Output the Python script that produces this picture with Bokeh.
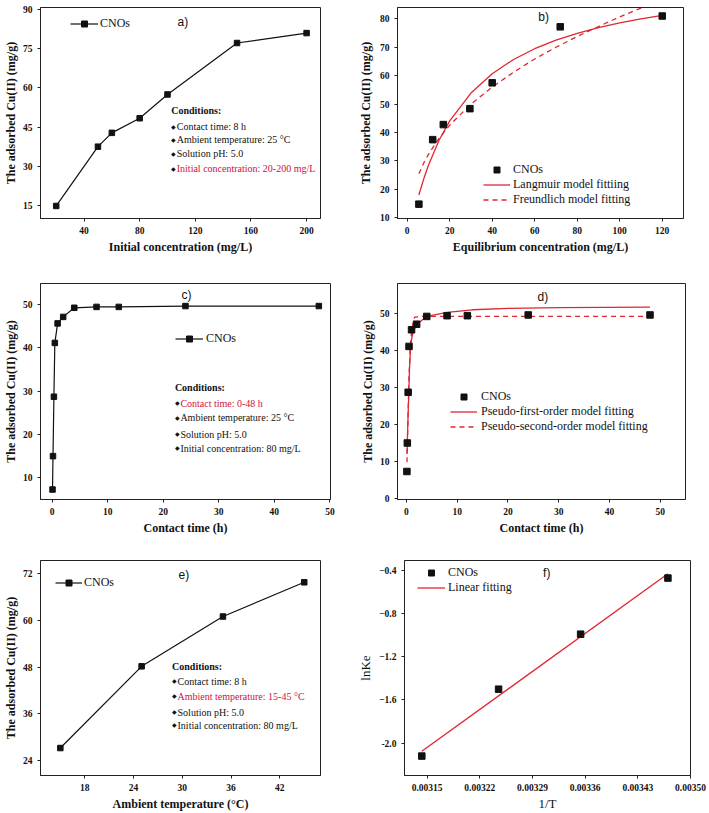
from bokeh.plotting import figure
from bokeh.layouts import column, row
from bokeh.models import (Range1d, FixedTicker, Label, Legend, LegendItem, PrintfTickFormatter,
                          AllLabels)
from bokeh.embed import file_html
from bokeh.resources import INLINE

SERIF = "Liberation Serif"
SANS = "Liberation Sans"
RED_LINE = "#e0262f"
RED_TEXT = "#d0103a"
INK = "#111111"

# ---------------- data ----------------
# a) effect of initial concentration
a_conc = [20, 50, 60, 80, 100, 150, 200]
a_q = [14.8, 37.5, 42.8, 48.4, 57.5, 77.2, 81.0]
a_xticks = [40, 80, 120, 160, 200]
a_yticks = [15, 30, 45, 60, 75, 90]

# b) isotherms
b_ce = [5.5, 12, 17, 29.5, 40, 72, 120]
b_q = [14.8, 37.5, 42.8, 48.4, 57.5, 77.2, 81.0]
lang_x = [5.5, 8, 10, 15, 20, 30, 40, 50, 60, 70, 80, 90, 100, 110, 120]
lang_y = [18.0, 24.2, 28.5, 37.3, 44.1, 53.9, 60.7, 65.7, 69.5, 72.5, 74.9, 76.9, 78.6, 80.0, 81.2]
freu_x = [5.5, 8, 10, 15, 20, 30, 40, 50, 60, 70, 80, 90, 100, 110, 115]
freu_y = [25.5, 29.6, 32.3, 38.0, 42.6, 50.0, 56.0, 61.2, 65.9, 70.0, 73.8, 77.3, 80.7, 83.8, 85.3]
b_xticks = [0, 20, 40, 60, 80, 100, 120]
b_yticks = [10, 20, 30, 40, 50, 60, 70, 80]

# c) contact time
c_t = [0.083, 0.167, 0.333, 0.5, 1, 2, 4, 8, 12, 24, 48]
c_q = [7.3, 15.0, 28.7, 41.1, 45.6, 47.1, 49.2, 49.4, 49.4, 49.6, 49.6]
c_xticks = [0, 10, 20, 30, 40, 50]
c_yticks = [10, 20, 30, 40, 50]

# d) kinetics
pfo_x = [0.1, 0.2, 0.33, 0.46, 0.6, 0.78, 1.0, 1.3, 2, 3.4, 5, 8, 13, 20, 30, 48]
pfo_y = [12.0, 17.0, 23.0, 28.7, 35.0, 40.5, 43.0, 45.0, 47.0, 48.6, 49.5, 50.3, 51.0, 51.4, 51.6, 51.7]
pso_x = [0.1, 0.2, 0.3, 0.5, 0.75, 1.0, 1.3, 1.6, 3, 48]
pso_y = [9.8, 16.0, 22.0, 33.0, 41.0, 45.0, 47.5, 49.0, 49.2, 49.2]
d_xticks = [0, 10, 20, 30, 40, 50]
d_yticks = [0, 10, 20, 30, 40, 50]

# e) temperature
e_temp = [15, 25, 35, 45]
e_q = [27.2, 48.2, 61.0, 69.8]
e_xticks = [18, 24, 30, 36, 42]
e_yticks = [24, 36, 48, 60, 72]

# f) van't Hoff
f_invT = [0.003143, 0.003245, 0.003354, 0.003470]
f_lnke = [-2.12, -1.50, -0.99, -0.47]
fit_x = [0.003143, 0.003470]
fit_y = [-2.075, -0.43]
f_xticks = [0.00315, 0.00322, 0.00329, 0.00336, 0.00343, 0.00350]
f_yticks = [-2.0, -1.6, -1.2, -0.8, -0.4]


def make_fig(w, h, bl, br, bt, bb, xr, yr, xticks, yticks, xlabel, ylabel, ystand=2):
    p = figure(width=w, height=h, x_range=Range1d(*xr), y_range=Range1d(*yr),
               output_backend="svg", toolbar_location=None,
               min_border_left=bl, min_border_right=br,
               min_border_top=bt, min_border_bottom=bb)
    p.grid.visible = False
    p.outline_line_color = "#222222"
    p.outline_line_width = 1
    p.outline_line_alpha = 1
    p.xaxis.ticker = FixedTicker(ticks=xticks, minor_ticks=[])
    p.yaxis.ticker = FixedTicker(ticks=yticks, minor_ticks=[])
    p.xaxis.axis_label = xlabel
    p.yaxis.axis_label = ylabel
    for ax in p.xaxis + p.yaxis:
        ax.axis_line_color = "#222222"
        ax.major_tick_line_color = "#222222"
        ax.minor_tick_line_color = None
        ax.major_tick_in = 0
        ax.major_tick_out = 3
        ax.major_label_policy = AllLabels()
        ax.major_label_text_font = SERIF
        ax.major_label_text_font_style = "bold"
        ax.major_label_text_font_size = "9.5px"
        ax.major_label_text_color = INK
        ax.axis_label_text_font = SERIF
        ax.axis_label_text_font_style = "bold"
        ax.axis_label_text_font_size = "12px"
        ax.axis_label_text_color = INK
    p.xaxis.major_label_standoff = 5
    p.yaxis.major_label_standoff = 5
    p.xaxis.axis_label_standoff = 3
    p.yaxis.axis_label_standoff = ystand
    return p


def legend(p, items, loc, gw=27, standoff=3, h=15):
    lg = Legend(items=[LegendItem(label=t, renderers=r) for t, r in items],
                location=loc, border_line_color=None, background_fill_alpha=0,
                padding=0, margin=0, spacing=0, glyph_width=gw, glyph_height=h,
                label_height=h, label_standoff=standoff, label_text_font=SERIF,
                label_text_font_size="12px", label_text_color=INK)
    p.add_layout(lg)


def lab(p, x, y, text, size="10px", font=SERIF, style="normal", color=INK,
        align="left", x_offset=0):
    p.add_layout(Label(x=x, y=y, text=text, text_font=font, text_font_size=size,
                       text_font_style=style, text_color=color, text_baseline="middle",
                       text_align=align, x_offset=x_offset))


def conditions(p, x, ys, lines, red_index):
    lab(p, x, ys[0], "Conditions:", style="bold")
    for i, (yy, t) in enumerate(zip(ys[1:], lines)):
        lab(p, x, yy, "\u25c6", size="5.5px")
        lab(p, x, yy, t, color=RED_TEXT if i == red_index else INK, x_offset=5.5)


# ---------------- a ----------------
pa = make_fig(355, 270, 37, 35, 7, 52, (8.7, 210), (10, 90.8), a_xticks, a_yticks,
              "Initial concentration (mg/L)", "The adsorbed Cu(II) (mg/g)")
la = pa.line(a_conc, a_q, line_color=INK, line_width=1.2)
sa = pa.scatter(a_conc, a_q, marker="square", size=5.5, color=INK)
legend(pa, [("CNOs", [la, sa])], (30, 187), gw=28, standoff=2)
lab(pa, 111, 85.4, "a)", size="12px", font=SANS, align="center")
conditions(pa, 102.7, [51.3, 45.2, 40.1, 34.8, 29.0],
           ["Contact time: 8 h", "Ambient temperature: 25 \u00b0C", "Solution pH: 5.0",
            "Initial concentration: 20-200 mg/L"], 3)

# ---------------- b ----------------
pb = make_fig(354, 270, 42, 26, 7, 52, (-4.56, 130), (9.75, 84), b_xticks, b_yticks,
              "Equilibrium concentration (mg/L)", "The adsorbed Cu(II) (mg/g)", ystand=4)
lb1 = pb.line(lang_x, lang_y, line_color=RED_LINE, line_width=1.3)
lb2 = pb.line(freu_x, freu_y, line_color=RED_LINE, line_width=1.3, line_dash="5 4")
sb = pb.scatter(b_ce, b_q, marker="square", size=6.5, color=INK)
legend(pb, [("CNOs", [sb]), ("Langmuir model fittiing", [lb1]),
            ("Freundlich model fitting", [lb2])], (86, 11.5))
lab(pb, 64.2, 80.8, "b)", size="12px", font=SANS, align="center")

# ---------------- c ----------------
pc = make_fig(355, 270, 37, 25, 13, 41, (-2.08, 50.1), (5, 54.8), c_xticks, c_yticks,
              "Contact time (h)", "The adsorbed Cu(II) (mg/g)")
lc = pc.line(c_t, c_q, line_color=INK, line_width=1.2)
sc = pc.scatter(c_t, c_q, marker="square", size=5.5, color=INK)
legend(pc, [("CNOs", [lc, sc])], (135, 153), gw=28, standoff=3)
lab(pc, 24.2, 52.2, "c)", size="12px", font=SANS, align="center")
conditions(pc, 22.1, [30.9, 27.2, 23.8, 20.1, 16.8],
           ["Contact time: 0-48 h", "Ambient temperature: 25 \u00b0C", "Solution pH: 5.0",
            "Initial concentration: 80 mg/L"], 0)

# ---------------- d ----------------
pd_ = make_fig(354, 270, 42, 24, 13, 41, (-1.77, 55), (-0.27, 58.1), d_xticks, d_yticks,
               "Contact time (h)", "The adsorbed Cu(II) (mg/g)")
ld1 = pd_.line(pfo_x, pfo_y, line_color=RED_LINE, line_width=1.3)
ld2 = pd_.line(pso_x, pso_y, line_color=RED_LINE, line_width=1.3, line_dash="5 4")
sd = pd_.scatter(c_t, c_q, marker="square", size=6.5, color=INK)
legend(pd_, [("CNOs", [sd]), ("Pseudo-first-order model fitting", [ld1]),
             ("Pseudo-second-order model fitting", [ld2])], (53, 65), standoff=4)
lab(pd_, 26.9, 54.4, "d)", size="12px", font=SANS, align="center")

# ---------------- e ----------------
pe = make_fig(355, 273, 37, 35, 20, 38, (12.56, 47), (20.14, 75.4), e_xticks, e_yticks,
              "Ambient temperature (\u00b0C)", "The adsorbed Cu(II) (mg/g)")
le = pe.line(e_temp, e_q, line_color=INK, line_width=1.2)
se = pe.scatter(e_temp, e_q, marker="square", size=5.5, color=INK)
legend(pe, [("CNOs", [le, se])], (15, 185), gw=27, standoff=2)
lab(pe, 30.2, 71.8, "e)", size="12px", font=SANS, align="center")
conditions(pe, 28.74, [48.2, 44.4, 40.5, 36.4, 33.0],
           ["Contact time: 8 h", "Ambient temperature: 15-45 \u00b0C", "Solution pH: 5.0",
            "Initial concentration: 80 mg/L"], 1)

# ---------------- f ----------------
pf = make_fig(354, 273, 42, 19, 20, 38, (0.00312, 0.0035), (-2.3, -0.307), f_xticks, f_yticks,
              "1/T", "lnKe", ystand=3)
pf.xaxis.formatter = PrintfTickFormatter(format="%.5f")
pf.yaxis.major_label_overrides = {-2: "-2.0"}
for ax in pf.xaxis + pf.yaxis:
    ax.axis_label_text_font_style = "normal"
    ax.axis_label_text_font_size = "13px"
pf.xaxis.axis_label_standoff = 2
lf = pf.line(fit_x, fit_y, line_color=RED_LINE, line_width=1.3)
sf = pf.scatter(f_invT, f_lnke, marker="square", size=6.5, color=INK)
legend(pf, [("CNOs", [sf]), ("Linear fitting", [lf])], (13, 180), gw=28, standoff=3)
lab(pf, 0.003309, -0.425, "f)", size="12px", font=SANS, align="center")

layout = column(row(pa, pb), row(pc, pd_), row(pe, pf))
open("out.html", "w").write(file_html(layout, INLINE))
